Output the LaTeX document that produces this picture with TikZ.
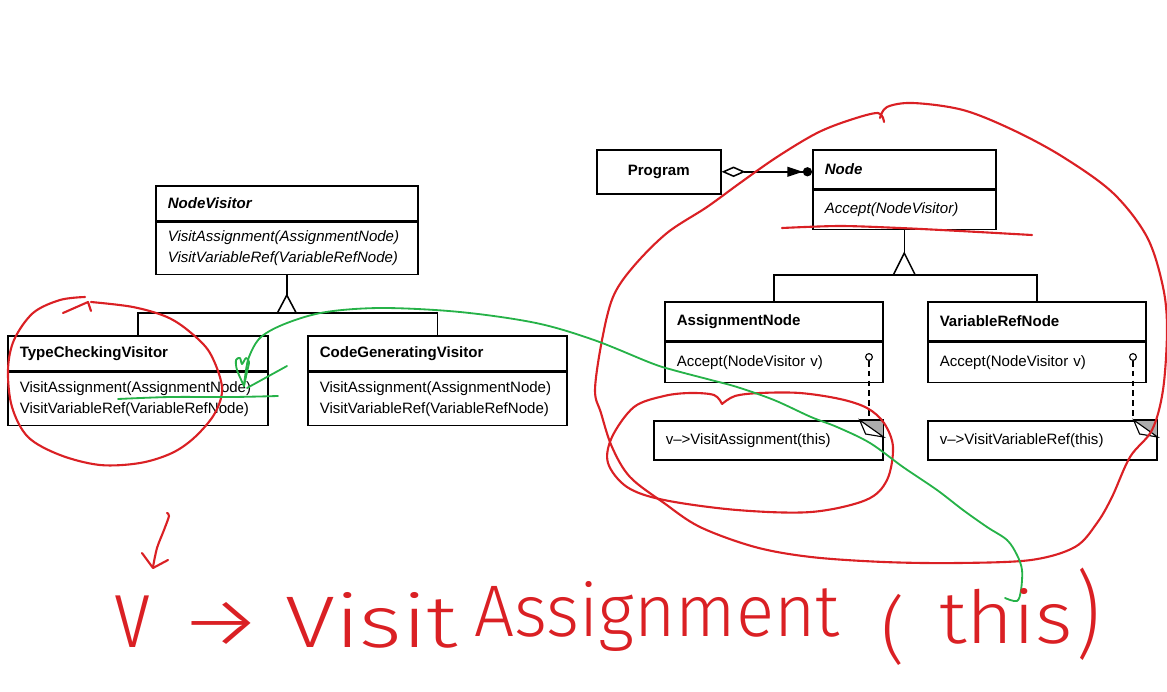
\documentclass[tikz,border=0pt]{standalone}
\usepackage{fontspec}
\setmainfont{Liberation Sans}
\newfontfamily\handfont{Fira Sans Light}
\usepackage{graphicx}
\usetikzlibrary{positioning,arrows.meta}

\definecolor{inkred}{RGB}{218,32,36}
\definecolor{inkgreen}{RGB}{38,178,72}
\newcommand{\umlsize}{\fontsize{10.7}{15}\selectfont}

\tikzset{
	cls/.style={draw, line width=1.1pt, anchor=north west, inner xsep=0.3cm, inner ysep=0pt, align=left, font=\umlsize},
	clsname/.style={cls, font=\umlsize\bfseries},
	uml/.style={line width=1.1pt},
	hook/.style={circle, draw, fill=white, line width=0.8pt, inner sep=0pt, minimum size=0.17cm},
	inkR/.style={inkred, line width=1.5pt, line cap=round, line join=round},
	inkG/.style={inkgreen, line width=1.3pt, line cap=round, line join=round},
	hand/.style={inkred, font=\handfont\fontsize{52}{52}\selectfont, inner sep=0pt, anchor=base west}
}

\begin{document}
\begin{tikzpicture}[x=0.025cm, y=-0.025cm]
		\useasboundingbox (0,0) rectangle (1167,692);

		\node[clsname, text width=5.95cm, minimum height=0.875cm] (nvh) at (155,185) {\textit{NodeVisitor}};
		\node[cls, text width=5.95cm, minimum height=1.3cm, below=0pt of nvh, font=\umlsize\itshape] (nvb) {VisitAssignment(AssignmentNode)\\VisitVariableRef(VariableRefNode)};
		\node[clsname, text width=5.9cm, minimum height=0.875cm] (tcvh) at (7,335) {TypeCheckingVisitor};
		\node[cls, text width=5.9cm, minimum height=1.325cm, below=0pt of tcvh] (tcvb) {VisitAssignment(AssignmentNode)\\VisitVariableRef(VariableRefNode)};
		\node[clsname, text width=5.875cm, minimum height=0.875cm] (cgvh) at (307,335) {CodeGeneratingVisitor};
		\node[cls, text width=5.875cm, minimum height=1.325cm, below=0pt of cgvh] (cgvb) {VisitAssignment(AssignmentNode)\\VisitVariableRef(VariableRefNode)};

		\node[clsname, align=center, text width=2.5cm, minimum height=1.1cm] (prg) at (596,149) {Program};
		\node[clsname, text width=3.975cm, minimum height=0.975cm] (ndh) at (812,149) {\textit{Node}};
		\node[cls, text width=3.975cm, minimum height=0.975cm, below=0pt of ndh, font=\umlsize\itshape] (ndb) {Accept(NodeVisitor)};
		\node[clsname, text width=4.85cm, minimum height=0.975cm] (anh) at (664,301) {AssignmentNode};
		\node[cls, text width=4.85cm, minimum height=1cm, below=0pt of anh] (anb) {Accept(NodeVisitor v)};
		\node[clsname, text width=4.85cm, minimum height=0.975cm] (vrnh) at (927,301) {VariableRefNode};
		\node[cls, text width=4.85cm, minimum height=1cm, below=0pt of vrnh] (vrnb) {Accept(NodeVisitor v)};

		\node[cls, text width=5.125cm, minimum height=0.975cm] (n1) at (653,420) {v--{}>VisitAssignment(this)};
		\node[cls, text width=5.125cm, minimum height=0.975cm] (n2) at (927,420) {v--{}>VisitVariableRef(this)};

		\draw[uml] (nvb.south) -- ++(0,20) coordinate (nvtip);
		\draw[uml, fill=white] (nvtip) -- ++(-9.5,18) coordinate (nvfoot) -- ++(19,0) -- cycle;
		\draw[uml] (tcvh.north) |- (nvfoot) -| (cgvh.north);

		\draw[uml] (ndb.south) -- ++(0,23) coordinate (ndtip);
		\draw[uml, fill=white] (ndtip) -- ++(-11,22) coordinate (ndfoot) -- ++(22,0) -- cycle;
		\draw[uml] (anh.north) |- (ndfoot) -| (vrnh.north);

		\draw[uml, {Diamond[open, length=17pt, width=7.5pt]}-{Triangle[length=11pt, width=7pt, sep=0pt]Circle[length=6.5pt]}] (prg.east) -- (prg.east -| ndh.west);

		\node[hook] (anp) at (869,357) {};
		\node[hook] (vrnp) at (1133,357) {};
		\draw[dash pattern=on 4pt off 3pt, line width=0.8pt] (anp) -- (anp |- n1.north);
		\draw[dash pattern=on 4pt off 3pt, line width=0.8pt] (vrnp) -- (vrnp |- n2.north);

		\fill[gray!65] (n1.north east) -- ++(-24,0) -- ++(24,17) -- cycle;
		\draw[line width=0.8pt, fill=white] (n1.north east) ++(-24,0) -- ++(6,14) -- ++(18,3) -- cycle;
		\draw[uml] (n1.north east) -- ++(-24,0) (n1.north east) -- ++(0,17);
		\fill[gray!65] (n2.north east) -- ++(-24,0) -- ++(24,17) -- cycle;
		\draw[line width=0.8pt, fill=white] (n2.north east) ++(-24,0) -- ++(6,14) -- ++(18,3) -- cycle;
		\draw[uml] (n2.north east) -- ++(-24,0) (n2.north east) -- ++(0,17);

		\draw[inkR] plot[smooth, tension=0.55] coordinates {(884,122) (878,113) (850,120) (817,133) (777,157) (740,183) (707,207) (667,233) (633,267) (613,297) (602,340) (595,390) (601,413) (612,447) (630,477) (664,503) (700,527) (755,547) (811,557) (884,562) (958,563) (1031,560) (1075,547) (1097,523) (1112,497) (1130,457) (1152,430) (1163,390) (1167,330) (1163,287) (1147,237) (1113,193) (1063,157) (1013,130) (963,110) (913,103) (887,107) (880,118)};
		\draw[inkR] plot[smooth, tension=0.5] coordinates {(782,228) (840,226) (900,228) (960,231) (1032,235)};
		\draw[inkR] plot[smooth, tension=0.55] coordinates {(722,404) (714,395) (690,393) (664,396) (634,407) (612,437) (608,463) (627,487) (664,500) (737,510) (811,512) (866,500) (887,480) (893,447) (884,423) (867,408) (840,399) (800,393) (760,393) (735,396) (722,404)};
		\draw[inkR] (63,313) -- (88,302) -- (91,311);
		\draw[inkR] plot[smooth, tension=0.55] coordinates {(91,302) (133,307) (167,317) (190,332) (210,353) (222,387) (215,413) (195,437) (172,453) (140,463) (100,465) (60,455) (28,437) (12,407) (8,370) (14,340) (33,313) (60,300) (85,297)};
		\draw[inkR] plot[smooth, tension=0.5] coordinates {(167,513) (169,516) (164,530) (157,548) (153,567)};
		\draw[inkR] (142,553) -- (153,568) -- (168,560);

		\draw[inkG] plot[smooth, tension=0.55] coordinates {(1005,598) (1017,601) (1021,590) (1022,570) (1017,555) (1007,540) (987,527) (963,510) (937,490) (903,467) (870,443) (837,427) (811,417) (774,400) (737,387) (711,380) (673,370) (651,363) (594,340) (536,323) (460,312) (383,308) (326,312) (287,323) (261,337) (249,357) (245,377) (244,386)};
		\draw[inkG] plot[smooth, tension=0.5] coordinates {(244,386) (237,370) (236,360) (240,358) (242,364) (246,358) (249,362) (247,372) (244,386)};
		\draw[inkG] (247,388) -- (287,366);
		\draw[inkG] plot[smooth, tension=0.5] coordinates {(118,399) (170,397) (233,397) (278,396)};

		\node[hand] (hv) at (114,647) {\scalebox{1.05}[1.35]{v}};
		\node[hand, anchor=center] (harrow) at (221,625) {\scalebox{1.3}[1]{→}};
		\node[hand] (hvisit) at (285,647) {\scalebox{1.25}[1]{Visit}};
		\node[hand] (hassign) at (474,636) {\scalebox{0.97}[1]{Assignment}};
		\node[hand] (hlpar) at (881,655) {(};
		\node[hand] (hthis) at (939,643) {\scalebox{1.1}[1]{this}};
		\node[hand] (hrpar) at (1076,647) {\scalebox{1}[1.3]{)}};
\end{tikzpicture}
\end{document}
